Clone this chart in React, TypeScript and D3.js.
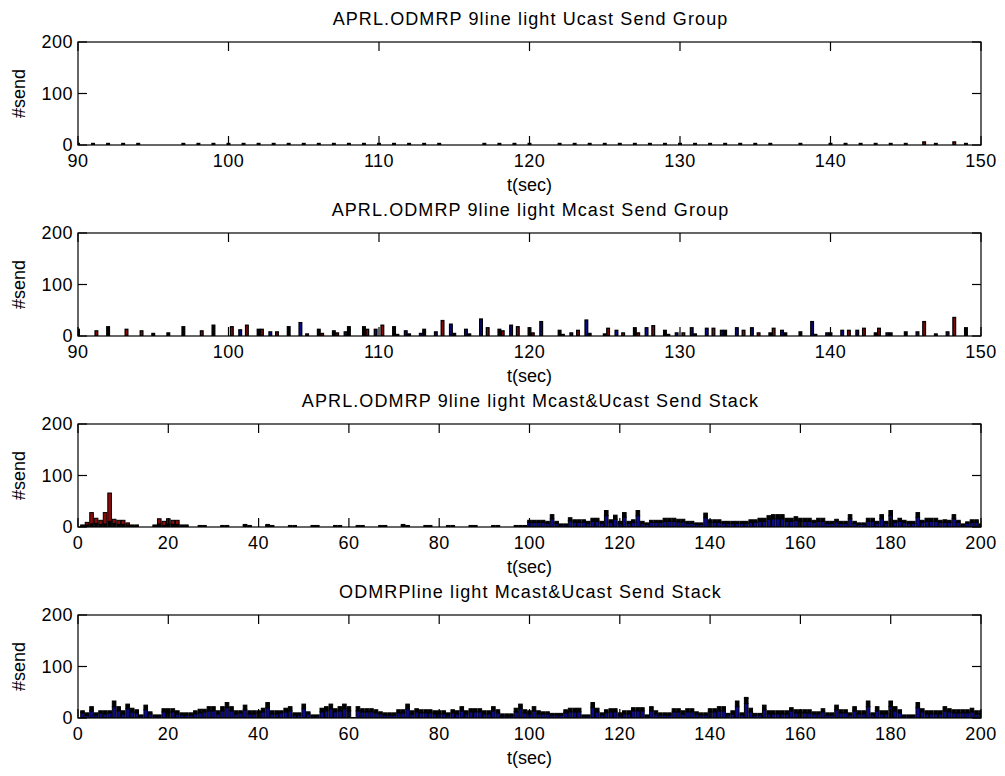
import React from 'react';
import * as d3 from 'd3';

// ---------- DATA ----------
// Panels 1 & 2: grouped bars, one group per second 90..149 (series: blue, black, red)
const groupT = d3.range(90, 150);
const groupTicks = [90, 100, 110, 120, 130, 140, 150];

const blue1 = [
  0,0,0,0,0,0,0,0,0,0, 0,0,0,0,0,0,0,0,0,0, 0,0,0,0,0,0,0,0,0,0,
  0,0,0,0,0,0,0,0,0,0, 0,0,0,0,0,0,0,0,0,0, 0,0,0,0,0,0,0,0,0,0,
];
const black1 = [
  3,3,3,3,3,0,0,3,3,3, 3,3,3,3,3,3,3,3,3,3, 3,3,3,3,3,0,0,3,3,3,
  3,0,3,3,3,3,3,3,3,3, 3,3,3,3,3,3,3,0,3,0, 3,3,3,3,3,3,0,3,0,3,
];
const red1 = [
  0,0,0,0,0,0,0,0,0,0, 0,0,0,0,0,0,0,0,0,0, 0,0,0,0,0,0,0,0,0,0,
  0,0,0,0,0,0,0,0,0,0, 0,0,0,0,0,0,0,0,0,0, 0,0,0,0,0,0,6,0,6,0,
];

const blue2 = [
  0,0,0,0,0,0,0,0,0,0, 0,12,0,8,0,26,0,0,8,0, 13,0,10,5,8,23,13,33,0,21,
  0,28,0,6,31,0,11,0,16,0, 6,16,15,11,16,16,0,11,0,28, 6,11,11,0,6,0,8,0,8,0,
];
const black2 = [
  13,0,18,0,0,5,6,18,0,21, 0,0,13,0,18,0,13,10,18,18, 0,18,4,13,0,5,4,0,13,0,
  16,0,11,0,5,4,0,16,0,11, 0,4,0,11,0,0,6,6,8,3, 6,0,0,6,6,8,0,4,0,16,
];
const red2 = [
  0,10,0,13,10,0,0,0,10,0, 18,21,13,8,0,4,5,6,0,13, 21,3,0,0,30,0,0,16,10,18,
  6,0,3,11,0,15,6,6,20,3, 6,0,15,0,11,6,15,0,0,0, 0,11,15,15,0,0,28,0,36,0,
];

// Panels 3 & 4: stacked bars, one per second 1..200 (stack: blue, black, red)
const stackT = d3.range(1, 201);
const stackTicks = [0, 20, 40, 60, 80, 100, 120, 140, 160, 180, 200];

const blue3 = [
  0,0,0,0,0,0,0,0,0,0,0,0,0,0,0,0,0,0,0,0,0,0,0,0,0,
  0,0,0,0,0,0,0,0,0,0,0,0,0,0,0,0,0,0,0,0,0,0,0,0,0,
  0,0,0,0,0,0,0,0,0,0,0,0,0,0,0,0,0,0,0,0,0,0,0,0,0,
  0,0,0,0,0,0,0,0,0,0,0,0,0,0,0,0,0,0,0,0,0,0,0,0,9,
  9,9,9,7,16,7,4,4,12,9,9,9,7,11,11,7,22,9,15,7,19,7,9,22,7,
  5,9,9,9,11,11,11,10,10,7,7,5,5,18,9,9,9,7,7,7,7,7,7,9,9,
  11,11,15,16,16,16,11,11,13,11,11,11,9,11,11,7,7,10,7,7,16,7,5,5,11,
  11,7,16,7,22,9,11,9,7,7,19,9,11,11,11,9,9,9,16,9,4,7,9,9,4,
];
const black3 = [
  2,4,6,7,5,6,11,7,5,5,4,2,2,0,0,0,2,6,3,6,5,5,2,2,0,
  0,3,3,0,0,0,3,3,0,0,0,3,3,0,0,0,3,3,0,0,0,3,3,0,0,
  0,3,3,0,0,0,3,3,0,0,0,3,3,0,0,0,3,3,0,0,0,3,3,0,0,
  0,3,3,0,0,0,3,3,0,0,0,3,3,0,0,0,3,3,0,0,0,3,3,3,4,
  4,4,4,4,8,4,2,2,6,5,5,5,4,6,6,4,10,5,8,4,9,4,5,10,4,
  3,4,4,4,6,6,6,5,5,4,4,3,3,9,5,5,5,4,4,4,4,4,4,5,5,
  6,6,7,8,8,8,6,6,7,6,6,6,4,6,6,4,4,5,4,4,8,4,3,3,6,
  6,4,8,4,10,4,6,4,4,4,9,4,6,6,6,4,5,4,8,4,2,3,5,5,2,
];
const red3 = [
  2,5,22,10,8,22,55,8,8,8,4,2,2,0,0,0,2,10,8,10,8,8,2,2,0,
  0,0,0,0,0,0,0,0,0,0,0,2,0,0,0,0,2,0,0,0,0,0,0,0,0,
  0,0,0,0,0,0,0,0,0,0,0,0,0,0,0,0,0,0,0,0,0,2,0,0,0,
  0,0,0,0,0,0,0,0,0,0,0,0,0,0,0,0,0,0,0,0,0,0,0,0,0,
  0,0,0,0,0,0,0,0,0,0,0,0,0,0,0,0,0,0,0,0,0,0,0,0,0,
  0,0,0,0,0,0,0,0,0,0,0,0,0,0,0,0,0,0,0,0,0,0,0,0,0,
  0,0,0,0,0,0,0,0,0,0,0,0,0,0,0,0,0,0,0,0,0,0,0,0,0,
  0,0,0,0,0,0,0,0,0,0,0,0,0,0,0,0,0,0,0,0,0,0,0,0,0,
];

const blue4 = [
  10,6,14,6,10,8,10,22,14,8,18,12,10,4,16,8,4,4,12,10,12,8,6,6,6,
  8,10,12,14,14,8,14,20,14,8,10,16,8,8,10,12,20,8,8,10,12,14,6,6,18,
  8,4,4,12,14,18,12,14,18,14,0,14,12,12,12,10,8,6,6,6,10,10,18,8,12,
  10,10,10,8,8,8,6,10,8,14,8,12,12,12,8,8,14,10,4,4,4,12,18,10,8,
  14,8,8,8,6,6,6,10,12,12,12,4,4,20,12,6,10,12,12,6,8,8,14,14,14,
  4,14,8,6,6,6,12,12,8,12,12,8,6,6,12,12,14,14,6,8,22,6,28,12,6,
  6,16,8,8,8,8,8,14,10,10,10,10,8,8,12,6,6,16,10,10,6,14,8,8,22,
  6,14,8,8,22,14,10,4,4,4,20,12,8,8,8,8,14,12,10,10,10,10,12,8,8,
];
const black4 = [
  4,4,8,4,4,6,4,11,8,6,9,7,6,2,9,4,2,2,6,8,6,6,4,4,4,
  6,7,5,8,8,6,8,10,8,6,4,9,6,6,4,7,10,6,6,4,7,8,4,4,9,
  4,2,2,7,8,9,6,8,9,8,1,8,6,6,6,6,4,4,4,4,6,6,9,6,6,
  6,6,6,6,6,6,4,6,6,8,6,6,6,6,6,6,8,6,4,4,4,7,9,6,6,
  8,6,4,4,3,3,3,6,7,7,7,2,2,10,7,4,6,6,6,4,6,6,6,6,6,
  2,8,6,4,4,4,6,6,6,6,6,4,4,4,6,6,8,8,3,6,11,4,10,7,3,
  3,9,6,6,6,6,6,6,6,6,6,6,4,4,6,4,4,9,6,6,4,8,6,6,11,
  4,8,6,6,11,8,6,2,2,2,10,6,6,6,6,6,8,6,6,6,6,6,7,6,6,
];
const red4Spikes: [number, number][] = [[148, 2]];

const yTicks = [0, 100, 200];
const titles = [
  'APRL.ODMRP 9line light Ucast Send Group',
  'APRL.ODMRP 9line light Mcast Send Group',
  'APRL.ODMRP 9line light Mcast&Ucast Send Stack',
  'ODMRPline light Mcast&Ucast Send Stack',
];

// ---------- STYLE / LAYOUT ----------
const COLORS = ['#0a0a8a', '#000000', '#8a0a0a'];
const LEFT = 78;
const RIGHT = 981;
const PH = 103;
const TOPS = [42, 233, 424, 615];
const TICK = 9;
const FONT = '"Liberation Sans", Arial, Helvetica, sans-serif';
const FS = 18;

type Rect = { x: number; y: number; w: number; h: number; c: string };

function groupedRects(x: d3.ScaleLinear<number, number>, y: d3.ScaleLinear<number, number>, series: number[][]): Rect[] {
  const n = series.length;
  const gw = Math.min(0.8, n / (n + 1.5));
  const bw = (gw / n) * 0.8;
  const out: Rect[] = [];
  groupT.forEach((t, i) => {
    series.forEach((s, k) => {
      const v = s[i];
      if (!v) return;
      const xc = t + (k - (n - 1) / 2) * (gw / n);
      const x0 = x(xc - bw / 2);
      const x1 = x(xc + bw / 2);
      out.push({ x: x0, y: y(v), w: x1 - x0, h: y(0) - y(v), c: COLORS[k] });
    });
  });
  return out;
}

function stackedRects(x: d3.ScaleLinear<number, number>, y: d3.ScaleLinear<number, number>, series: number[][]): Rect[] {
  const out: Rect[] = [];
  const bw = 0.8;
  stackT.forEach((t, i) => {
    let base = 0;
    series.forEach((s, k) => {
      const v = s[i] || 0;
      if (!v) return;
      const x0 = x(t - bw / 2);
      const x1 = x(t + bw / 2);
      out.push({ x: x0, y: y(base + v), w: x1 - x0, h: y(base) - y(base + v), c: COLORS[k] });
      base += v;
    });
  });
  return out;
}

function Panel({ idx, domain, xTicks, rects, barStroke }: { idx: number; domain: [number, number]; xTicks: number[]; rects: (x: any, y: any) => Rect[]; barStroke: number }) {
  const top = TOPS[idx];
  const bottom = top + PH;
  const x = d3.scaleLinear().domain(domain).range([LEFT, RIGHT]);
  const y = d3.scaleLinear().domain([0, 200]).range([bottom, top]);
  const bars = rects(x, y);
  const cid = `clip${idx}`;
  return (
    <g>
      <defs>
        <clipPath id={cid}>
          <rect x={LEFT} y={top - 1} width={RIGHT - LEFT} height={PH + 1} />
        </clipPath>
      </defs>
      <g clipPath={`url(#${cid})`}>
        {bars.map((b, i) => (
          <rect key={i} x={b.x} y={b.y} width={b.w} height={b.h} fill={b.c} stroke="#000" strokeWidth={barStroke} />
        ))}
      </g>
      <rect x={LEFT} y={top} width={RIGHT - LEFT} height={PH} fill="none" stroke="#000" strokeWidth={1.2} />
      {xTicks.map((t) => (
        <g key={`x${t}`}>
          <line x1={x(t)} x2={x(t)} y1={bottom} y2={bottom - TICK} stroke="#000" strokeWidth={1.2} />
          <line x1={x(t)} x2={x(t)} y1={top} y2={top + TICK} stroke="#000" strokeWidth={1.2} />
          <text x={x(t)} y={bottom + 22} textAnchor="middle" fontSize={FS} letterSpacing={0.5}>{t}</text>
        </g>
      ))}
      {yTicks.map((v) => (
        <g key={`y${v}`}>
          <line x1={LEFT} x2={LEFT + TICK} y1={y(v)} y2={y(v)} stroke="#000" strokeWidth={1.2} />
          <line x1={RIGHT} x2={RIGHT - TICK} y1={y(v)} y2={y(v)} stroke="#000" strokeWidth={1.2} />
          <text x={73} y={y(v)} dy="0.35em" textAnchor="end" fontSize={FS} letterSpacing={0.5}>{v}</text>
        </g>
      ))}
      <text x={(LEFT + RIGHT) / 2 + 1} y={top - 17} textAnchor="middle" fontSize={FS} letterSpacing={1.1}>{titles[idx]}</text>
      <text x={(LEFT + RIGHT) / 2} y={bottom + 46} textAnchor="middle" fontSize={FS}>t(sec)</text>
      <text transform={`translate(25,${top + PH / 2}) rotate(-90)`} textAnchor="middle" fontSize={FS}>#send</text>
    </g>
  );
}

export default function App() {
  const red4 = stackT.map((t) => {
    const hit = red4Spikes.find((p) => p[0] === t);
    return hit ? hit[1] : 0;
  });
  return (
    <div style={{ position: 'absolute', left: 0, top: 0 }}>
      <svg width={1005} height={776} style={{ display: 'block', background: '#fff' }} fontFamily={FONT}>
        <rect width={1005} height={776} fill="#fff" />
        <Panel idx={0} domain={[90, 150]} xTicks={groupTicks} barStroke={1.3} rects={(x, y) => groupedRects(x, y, [blue1, black1, red1])} />
        <Panel idx={1} domain={[90, 150]} xTicks={groupTicks} barStroke={1.3} rects={(x, y) => groupedRects(x, y, [blue2, black2, red2])} />
        <Panel idx={2} domain={[0, 200]} xTicks={stackTicks} barStroke={1} rects={(x, y) => stackedRects(x, y, [blue3, black3, red3])} />
        <Panel idx={3} domain={[0, 200]} xTicks={stackTicks} barStroke={1} rects={(x, y) => stackedRects(x, y, [blue4, black4, red4])} />
      </svg>
    </div>
  );
}
